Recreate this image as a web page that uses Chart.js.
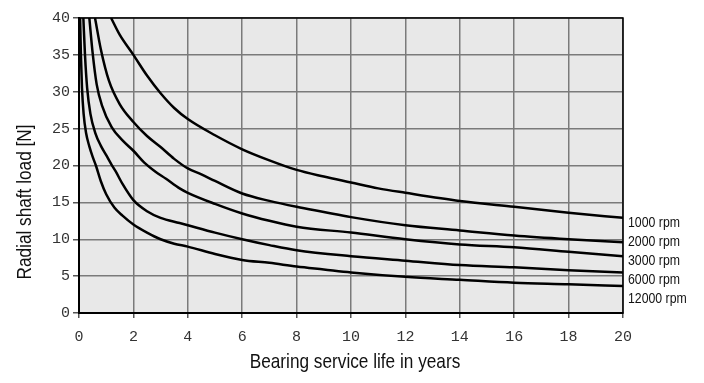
<!doctype html>
<html lang="en">
<head>
<meta charset="utf-8">
<title>Bearing service life</title>
<style>
    body { margin: 0; background: white; }
    #chartBox { width: 704px; height: 383px; }
</style>
</head>
<body>
<div id="chartBox"><canvas id="myChart" width="704" height="383"></canvas></div>
<script src="https://cdn.jsdelivr.net/npm/chart.js"></script>
<script>
// values: years -> radial load [N]
const rpmNames = ['1000 rpm', '2000 rpm', '3000 rpm', '6000 rpm', '12000 rpm'];

const years1000 = [1.18, 1.5, 2, 2.5, 3, 3.5, 4, 5, 6, 7, 8, 9, 10, 11, 12, 14, 16, 18, 20];
const load1000 = [40, 37.7, 35, 32.2, 29.8, 27.8, 26.3, 24.1, 22.2, 20.7, 19.4, 18.5, 17.7, 16.9, 16.3, 15.2, 14.4, 13.6, 12.9];

const years2000 = [0.59, 0.8, 1.1, 1.5, 2, 2.5, 3, 3.5, 4, 4.5, 5, 6, 7, 8, 9, 10, 12, 14, 16, 18, 20];
const load2000 = [40, 35.8, 31.5, 28.3, 25.9, 24, 22.5, 20.9, 19.6, 18.8, 17.9, 16.2, 15.2, 14.4, 13.7, 13.0, 11.9, 11.2, 10.5, 10.0, 9.6];

const years3000 = [0.38, 0.5, 0.65, 0.85, 1.2, 1.6, 2, 2.4, 2.8, 3.2, 3.7, 4, 5, 6, 7, 8, 10, 12, 14, 16, 18, 20];
const load3000 = [40, 35.3, 31, 28.1, 25.2, 23.4, 22, 20.4, 19.2, 18.2, 16.9, 16.3, 14.8, 13.5, 12.5, 11.7, 10.9, 10.0, 9.3, 8.9, 8.3, 7.7];

const years6000 = [0.16, 0.22, 0.3, 0.42, 0.6, 0.8, 1.0, 1.2, 1.35, 1.6, 2, 2.5, 3, 3.7, 4, 5, 6, 7, 8, 10, 12, 14, 16, 18, 20];
const load6000 = [40, 35, 30.5, 27, 24.4, 22.7, 21.4, 20.1, 19.2, 17.5, 15.3, 13.8, 12.9, 12.2, 11.9, 10.9, 10.0, 9.2, 8.5, 7.7, 7.1, 6.5, 6.2, 5.8, 5.5];

const years12000 = [0.04, 0.07, 0.11, 0.17, 0.26, 0.38, 0.5, 0.63, 0.8, 1, 1.3, 1.6, 2, 2.5, 3, 3.5, 4, 5, 6, 7, 8, 9, 10, 12, 14, 16, 18, 20];
const load12000 = [40, 35, 30.5, 27, 24.4, 22.6, 21.2, 19.9, 17.9, 16.1, 14.3, 13.2, 12, 10.9, 10, 9.4, 9, 8, 7.2, 6.8, 6.3, 5.9, 5.5, 4.9, 4.5, 4.1, 3.9, 3.66];

const xTitle = 'Bearing service life in years';
const yTitle = 'Radial shaft load [N]';

const allYears = [years1000, years2000, years3000, years6000, years12000];
const allLoads = [load1000, load2000, load3000, load6000, load12000];

function pairs(xs, ys) {
    return xs.map((x, i) => ({ x: x, y: ys[i] }));
}

const datasets = rpmNames.map((name, i) => ({
    label: name,
    data: pairs(allYears[i], allLoads[i]),
    borderColor: '#000',
    borderWidth: 2.5,
    pointRadius: 0,
    cubicInterpolationMode: 'monotone',
    fill: false
}));

// narrow sans: Liberation Sans squeezed like Arial Narrow
function narrowText(ctx, text, x, y, size, align, angle) {
    ctx.save();
    ctx.translate(x, y);
    if (angle) ctx.rotate(angle);
    ctx.scale(0.82, 1);
    ctx.font = size + 'px "Liberation Sans", Arial, sans-serif';
    ctx.textAlign = align;
    ctx.textBaseline = 'middle';
    ctx.fillText(text, 0, 0);
    ctx.restore();
}

// grey plot background, frame, titles and curve labels
const decor = {
    id: 'decor',
    beforeDraw: (chart) => {
        const { ctx, chartArea: a } = chart;
        ctx.save();
        ctx.fillStyle = '#e8e8e8';
        ctx.fillRect(a.left, a.top, a.right - a.left, a.bottom - a.top);
        ctx.restore();
    },
    afterDraw: (chart) => {
        const { ctx, chartArea: a, scales } = chart;
        ctx.save();
        ctx.strokeStyle = '#000';
        ctx.lineWidth = 1.5;
        ctx.strokeRect(a.left, a.top, a.right - a.left, a.bottom - a.top);
        ctx.fillStyle = '#111';
        const lastY = scales.y.getPixelForValue(load1000[load1000.length - 1]);
        rpmNames.forEach((name, i) => {
            narrowText(ctx, name, a.right + 5, lastY + 5 + i * 19, 15, 'left');
        });
        narrowText(ctx, xTitle, (a.left + a.right) / 2 + 4, 362, 21, 'center');
        narrowText(ctx, yTitle, 25, 202, 21, 'center', -Math.PI / 2);
        ctx.restore();
    }
};

const tickFont = { family: '"Liberation Mono", "DejaVu Sans Mono", monospace', size: 15 };

const config = {
    type: 'line',
    data: { datasets: datasets },
    options: {
        responsive: false,
        animation: false,
        devicePixelRatio: 1,
        layout: { padding: { top: 18, right: 81, left: 0, bottom: 0 } },
        plugins: {
            legend: { display: false },
            tooltip: { enabled: false }
        },
        scales: {
            x: {
                type: 'linear',
                min: 0,
                max: 20,
                afterFit: (s) => { s.height = 70; },
                ticks: { stepSize: 2, color: '#333', font: tickFont, padding: 10, maxRotation: 0 },
                grid: { color: '#7a7a7a', lineWidth: 1.5, tickLength: 5, tickColor: '#555' },
                border: { color: '#000', width: 2 }
            },
            y: {
                min: 0,
                max: 40,
                afterFit: (s) => { s.width = 79; },
                ticks: { stepSize: 5, color: '#333', font: tickFont, padding: 3 },
                grid: { color: '#7a7a7a', lineWidth: 1.5, tickLength: 6, tickColor: '#555' },
                border: { color: '#000', width: 2 }
            }
        }
    },
    plugins: [decor]
};

const myChart = new Chart(document.getElementById('myChart'), config);
</script>
</body>
</html>
